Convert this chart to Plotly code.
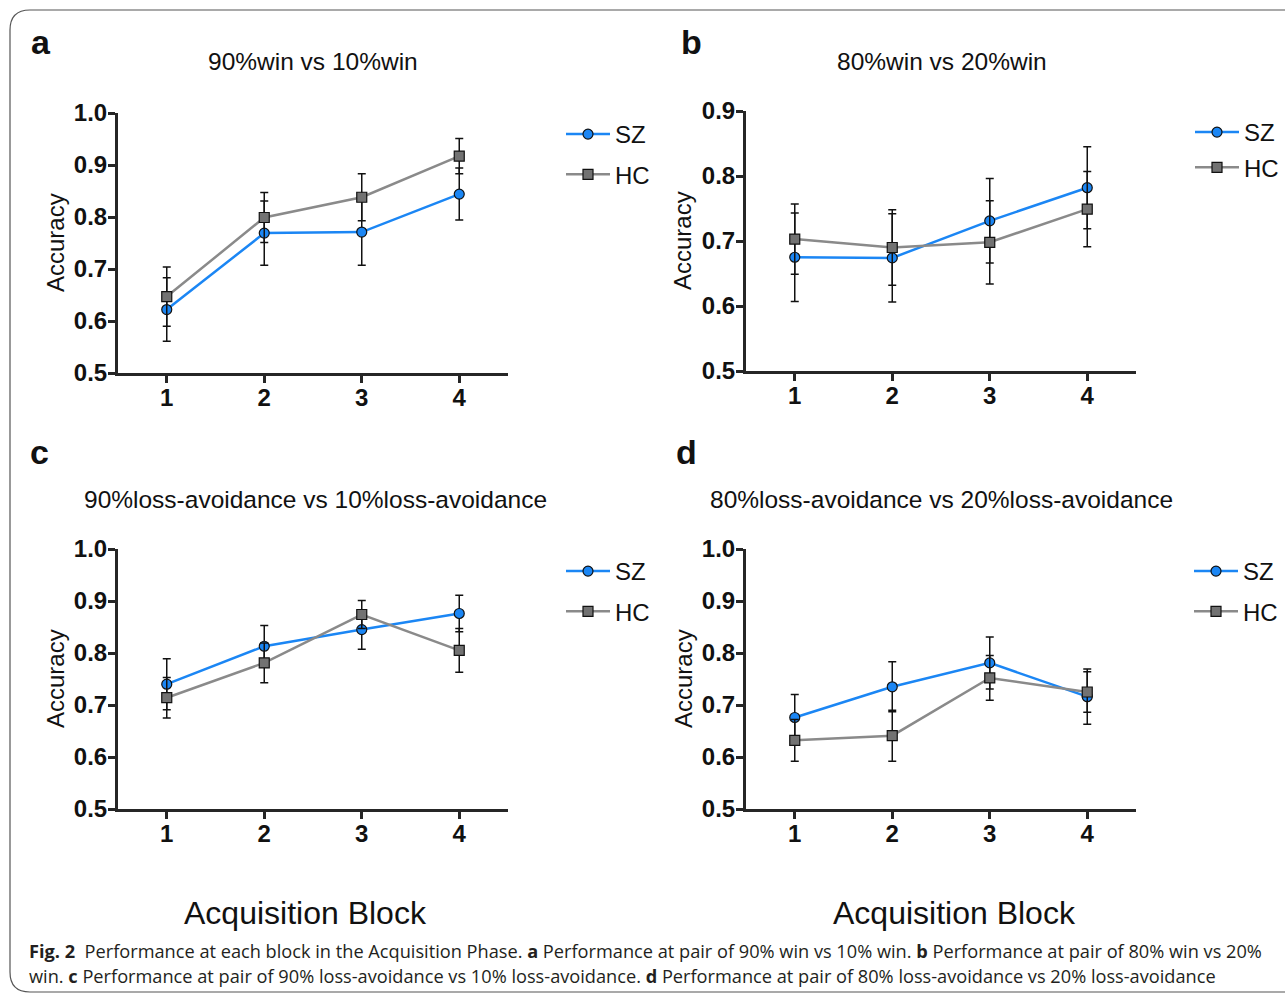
import plotly.graph_objects as go

W, H = 1285, 995

blocks = [1, 2, 3, 4]
x_ticks = ["1", "2", "3", "4"]

a_sz = [0.622, 0.769, 0.771, 0.844]
a_sz_err = [0.061, 0.062, 0.064, 0.050]
a_hc = [0.647, 0.799, 0.838, 0.917]
a_hc_err = [0.057, 0.048, 0.045, 0.034]

b_sz = [0.675, 0.674, 0.731, 0.782]
b_sz_err = [0.068, 0.068, 0.065, 0.063]
b_hc = [0.703, 0.690, 0.698, 0.749]
b_hc_err = [0.054, 0.058, 0.064, 0.058]

c_sz = [0.740, 0.813, 0.845, 0.876]
c_sz_err = [0.049, 0.040, 0.038, 0.035]
c_hc = [0.714, 0.781, 0.874, 0.805]
c_hc_err = [0.039, 0.038, 0.027, 0.042]

d_sz = [0.676, 0.735, 0.781, 0.716]
d_sz_err = [0.044, 0.048, 0.050, 0.053]
d_hc = [0.632, 0.641, 0.752, 0.725]
d_hc_err = [0.040, 0.049, 0.043, 0.039]

panel_titles = ["90%win vs 10%win", "80%win vs 20%win",
                "90%loss-avoidance vs 10%loss-avoidance",
                "80%loss-avoidance vs 20%loss-avoidance"]
panel_letters = ["a", "b", "c", "d"]
y_ranges = [[0.5, 1.0], [0.5, 0.9], [0.5, 1.0], [0.5, 1.0]]

FONT = "Liberation Sans, Arial, Helvetica, sans-serif"
BLUE = "#1b86f4"
GRAYL = "#8a8a8a"
GRAYM = "#727272"
AX = "#262626"


def px(x):
    return x / W


def py(y):
    return 1 - y / H


# plot-area pixel boxes: (left, right, top, bottom)
boxes = [(118, 508, 113, 373), (746, 1136, 111, 371),
         (118, 508, 549, 809), (746, 1136, 549, 809)]
title_pos = [(313, 62), (942, 62), (315, 500), (942, 500)]
letter_pos = [(41, 42), (691, 42), (39, 452), (686, 452)]
ylabel_x = [55, 683, 55, 683]
legend_pos = [(561, 112), (1190, 110), (561, 549), (1189, 549)]
legend_gaps = [6, 1, 6, 6]

data = [(a_sz, a_sz_err, a_hc, a_hc_err), (b_sz, b_sz_err, b_hc, b_hc_err),
        (c_sz, c_sz_err, c_hc, c_hc_err), (d_sz, d_sz_err, d_hc, d_hc_err)]

fig = go.Figure()
annotations = []
layout_upd = {}

for i, (sz, sze, hc, hce) in enumerate(data):
    n = "" if i == 0 else str(i + 1)
    xa, ya = "x" + n, "y" + n
    lg = "legend" + n
    fig.add_trace(go.Scatter(
        x=blocks, y=sz, name="SZ", mode="lines+markers",
        xaxis=xa, yaxis=ya, legend=lg, legendgroup="sz" + n,
        line=dict(color=BLUE, width=2.5),
        marker=dict(symbol="circle", size=10, color=BLUE,
                    line=dict(color="#111", width=1.2)),
        error_y=dict(type="data", array=sze, color="#111", thickness=1.5, width=4),
    ))
    fig.add_trace(go.Scatter(
        x=blocks, y=hc, name="HC", mode="lines+markers",
        xaxis=xa, yaxis=ya, legend=lg, legendgroup="hc" + n,
        line=dict(color=GRAYL, width=2.5),
        marker=dict(symbol="square", size=10, color=GRAYM,
                    line=dict(color="#111", width=1.2)),
        error_y=dict(type="data", array=hce, color="#111", thickness=1.5, width=4),
    ))
    l, r, t, b = boxes[i]
    y0, y1 = y_ranges[i]
    yt = [round(y0 + 0.1 * k, 1) for k in range(int(round((y1 - y0) / 0.1)) + 1)]
    layout_upd["xaxis" + n] = dict(
        domain=[px(l), px(r)], anchor=ya, range=[0.5, 4.5], automargin=False,
        tickvals=blocks, ticktext=x_ticks, showgrid=False, zeroline=False,
        showline=True, linecolor=AX, linewidth=3, ticks="outside",
        ticklen=7, tickwidth=3, tickcolor=AX, ticklabelstandoff=-6,
        tickfont=dict(family=FONT, size=24, color="#111", weight="bold"),
    )
    layout_upd["yaxis" + n] = dict(
        domain=[py(b), py(t)], anchor=xa, range=[y0, y1], automargin=False,
        tickvals=yt, ticktext=["%.1f" % v for v in yt],
        showgrid=False, zeroline=False,
        showline=True, linecolor=AX, linewidth=3, ticks="outside",
        ticklen=7, tickwidth=3, tickcolor=AX, ticklabelstandoff=-4,
        tickfont=dict(family=FONT, size=24, color="#111", weight="bold"),
    )
    lx, lyy = legend_pos[i]
    layout_upd[lg] = dict(
        x=px(lx), y=py(lyy), xanchor="left", yanchor="top",
        bgcolor="rgba(0,0,0,0)", tracegroupgap=legend_gaps[i], itemwidth=44,
        font=dict(family=FONT, size=24, color="#111"),
    )
    tx, ty = title_pos[i]
    annotations.append(dict(x=px(tx), y=py(ty), xref="paper", yref="paper",
                            text=panel_titles[i], showarrow=False,
                            font=dict(family=FONT, size=24.5, color="#111"),
                            xanchor="center", yanchor="middle"))
    lx2, ly2 = letter_pos[i]
    annotations.append(dict(x=px(lx2), y=py(ly2), xref="paper", yref="paper",
                            text="<b>%s</b>" % panel_letters[i], showarrow=False,
                            font=dict(family=FONT, size=34, color="#111"),
                            xanchor="center", yanchor="middle"))
    annotations.append(dict(x=px(ylabel_x[i]), y=py((t + b) / 2), xref="paper",
                            yref="paper", text="Accuracy", textangle=-90,
                            showarrow=False,
                            font=dict(family=FONT, size=24, color="#111"),
                            xanchor="center", yanchor="middle"))

for cx in (305, 954):
    annotations.append(dict(x=px(cx), y=py(913), xref="paper", yref="paper",
                            text="Acquisition Block", showarrow=False,
                            font=dict(family=FONT, size=32, color="#111"),
                            xanchor="center", yanchor="middle"))

CAP = "Open Sans, Noto Sans, sans-serif"
cap1 = ("<b>Fig. 2</b>  Performance at each block in the Acquisition Phase. "
        "<b>a</b> Performance at pair of 90% win vs 10% win. "
        "<b>b</b> Performance at pair of 80% win vs 20%")
cap2 = ("win. <b>c</b> Performance at pair of 90% loss-avoidance vs 10% loss-avoidance. "
        "<b>d</b> Performance at pair of 80% loss-avoidance vs 20% loss-avoidance")
for txt, yy in ((cap1, 951), (cap2, 976)):
    annotations.append(dict(x=px(27), y=py(yy), xref="paper", yref="paper",
                            text=txt, showarrow=False,
                            font=dict(family=CAP, size=18.2, color="#231f20"),
                            xanchor="left", yanchor="middle"))

border = ("M %f %f L %f %f Q %f %f %f %f L %f %f Q %f %f %f %f L %f %f" % (
    px(1300), py(10), px(30), py(10), px(10), py(10), px(10), py(30),
    px(10), py(972), px(10), py(992), px(30), py(992), px(1300), py(992)))

fig.update_layout(
    width=W, height=H, margin=dict(l=0, r=0, t=0, b=0, autoexpand=False),
    paper_bgcolor="white", plot_bgcolor="white",
    showlegend=True, annotations=annotations,
    shapes=[dict(type="path", path=border, xref="paper", yref="paper",
                 line=dict(color="#555", width=1.2))],
    **layout_upd,
)

fig.write_html("out.html", include_plotlyjs=True, config={"displayModeBar": False},
               post_script="document.body.style.margin='0';document.body.style.overflow='hidden';")
